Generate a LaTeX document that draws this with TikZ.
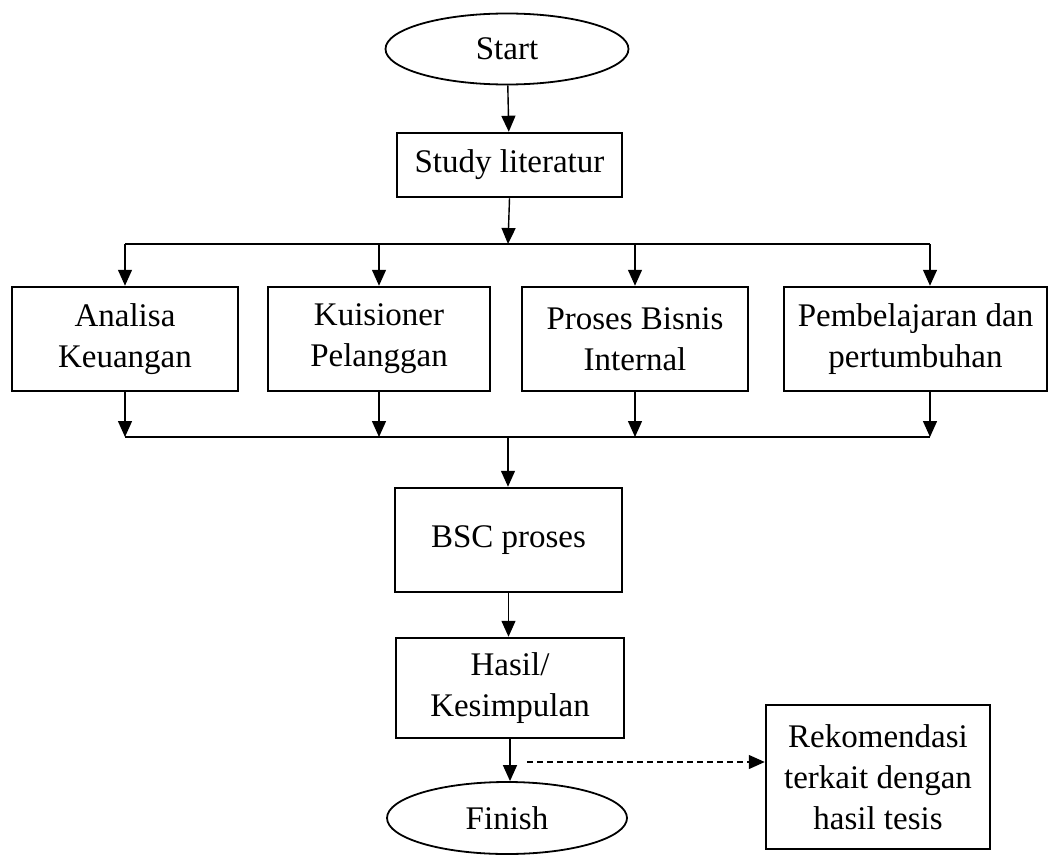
\documentclass[tikz,border=0pt]{standalone}
\usepackage{fontspec}
\setmainfont{Liberation Serif}
\usetikzlibrary{arrows.meta,shapes.geometric}
\begin{document}
\begin{tikzpicture}[x=1pt,y=-1pt,
  every node/.style={font=\fontsize{33}{41}\selectfont, align=center, inner sep=2pt},
  procbox/.style={draw, line width=2.5pt, rectangle},
  terminal/.style={draw, line width=1.8pt, ellipse, minimum width=243, minimum height=71},
  link/.style={line width=1.4pt, -{Triangle[length=16pt,width=14pt]}},
  busline/.style={line width=1.4pt},
  dashlink/.style={line width=1.3pt, dash pattern=on 6pt off 4pt, -{Triangle[length=16pt,width=14pt]}}
]
\useasboundingbox (0,0) rectangle (1057,856);

% terminals and process boxes
\node[terminal] (start) at (507,49) {Start};
\node[procbox, minimum width=225, minimum height=64] (study) at (509.5,165) {Study literatur};

\node[procbox, minimum width=226, minimum height=104] (ak) at (125,339) {Analisa\\Keuangan};
\node[procbox, minimum width=222, minimum height=104] (kp) at (379,339) {Kuisioner\\Pelanggan};
\node[procbox, minimum width=226, minimum height=104] (pb) at (635,339) {Proses Bisnis\\Internal};
\node[procbox, minimum width=263, minimum height=104] (pp) at (915.5,339) {Pembelajaran dan\\pertumbuhan};

\node[procbox, minimum width=227, minimum height=104] (bsc) at (508.5,540) {BSC proses};
\node[procbox, minimum width=228, minimum height=100] (hasil) at (510,688) {Hasil/\\Kesimpulan};
\node[terminal, minimum width=240, minimum height=72] (finish) at (507,818) {Finish};
\node[procbox, minimum width=224, minimum height=144] (rek) at (878,777) {Rekomendasi\\terkait dengan\\hasil tesis};

% distribution bus below the literature study
\coordinate (b1) at (508,244);
\coordinate (b1L) at (125,244);
\coordinate (b1R) at (930,244);
% collection bus above the BSC step
\coordinate (b2) at (508,437);
\coordinate (b2L) at (125,437);
\coordinate (b2R) at (930,437);
\coordinate (d0) at (527,762);

\draw[link] (start) -- (study);
\draw[link] (study.south) -- (b1);
\draw[busline] (b1L) -- (b1R);
\draw[link] (b1L) -- (ak.north);
\draw[link] (kp.north |- b1L) -- (kp.north);
\draw[link] (pb.north |- b1L) -- (pb.north);
\draw[link] (b1R) -- (b1R |- pp.north);

\draw[link] (ak.south) -- (b2L);
\draw[link] (kp.south) -- (kp.south |- b2L);
\draw[link] (pb.south) -- (pb.south |- b2L);
\draw[link] (b1R |- pp.south) -- (b2R);
\draw[busline] (b2L) -- (b2R);
\draw[link] (b2) -- (b2 |- bsc.north);

\draw[link] (bsc) -- (bsc.south |- hasil.north);
\draw[link] (hasil.south) -- (hasil.south |- finish.north);
\draw[dashlink] (d0) -- (rek.west |- d0);
\end{tikzpicture}
\end{document}
